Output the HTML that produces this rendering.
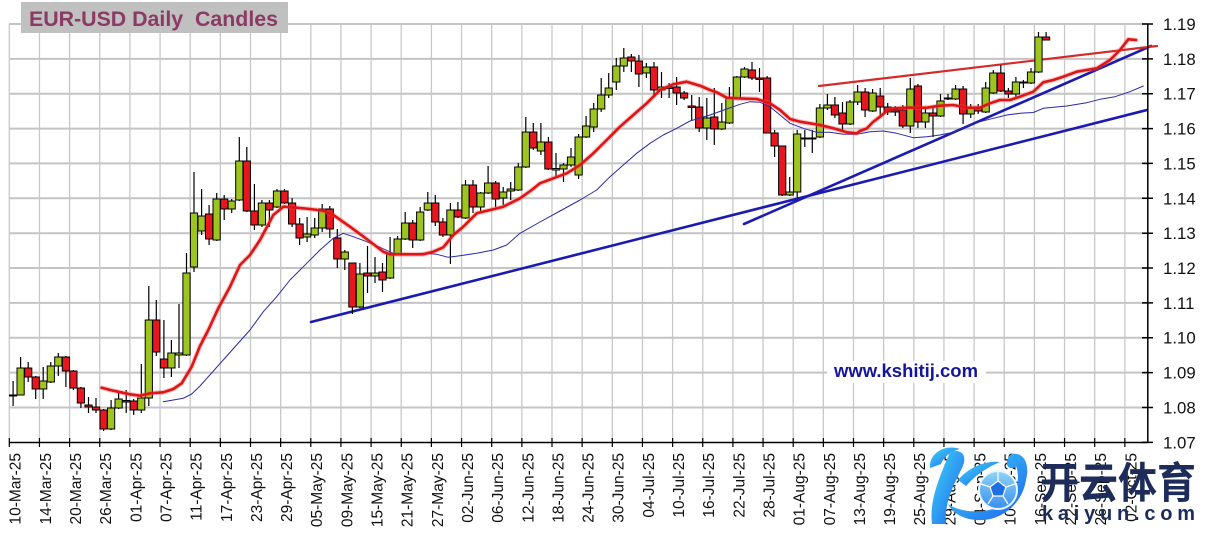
<!DOCTYPE html>
<html><head><meta charset="utf-8"><style>html,body{margin:0;padding:0;background:#fff}svg{display:block}</style></head>
<body>
<svg width="1211" height="546" viewBox="0 0 1211 546" xmlns="http://www.w3.org/2000/svg">
<defs>
<linearGradient id="lg" x1="0" y1="0" x2="1" y2="1"><stop offset="0" stop-color="#3fd6f7"/><stop offset="1" stop-color="#1e62ee"/></linearGradient>
<linearGradient id="bg" x1="0" y1="0" x2="0" y2="1"><stop offset="0" stop-color="#8fd4f8"/><stop offset="1" stop-color="#3a8ff0"/></linearGradient>
</defs>
<rect width="1211" height="546" fill="#fff"/>
<g stroke="#c4c4c4" stroke-width="2">
<path d="M9 24H1148M9 58.9H1148M9 93.7H1148M9 128.6H1148M9 163.4H1148M9 198.3H1148M9 233.2H1148M9 268H1148M9 302.9H1148M9 337.7H1148M9 372.6H1148M9 407.5H1148"/>
</g>
<g stroke="#c8c8c8" stroke-width="1.3">
<path d="M9.3 24V442M39.45 24V442M69.6 24V442M99.75 24V442M129.9 24V442M160.05 24V442M190.2 24V442M220.35 24V442M250.5 24V442M280.65 24V442M310.8 24V442M340.95 24V442M371.1 24V442M401.25 24V442M431.4 24V442M461.55 24V442M491.7 24V442M521.85 24V442M552 24V442M582.15 24V442M612.3 24V442M642.45 24V442M672.6 24V442M702.75 24V442M732.9 24V442M763.05 24V442M793.2 24V442M823.35 24V442M853.5 24V442M883.65 24V442M913.8 24V442M943.95 24V442M974.1 24V442M1004.25 24V442M1034.4 24V442M1064.55 24V442M1094.7 24V442M1124.85 24V442"/>
</g>
<rect x="827" y="361" width="159" height="22" fill="#fff"/>
<text x="834" y="377" font-family="Liberation Sans, Arial, sans-serif" font-weight="bold" font-size="18.4" fill="#15159c" textLength="144" lengthAdjust="spacingAndGlyphs">www.kshitij.com</text>
<g fill="none" stroke-linecap="round">
<path d="M311 322L1147 110" stroke="#1b1bb0" stroke-width="2.6"/>
<path d="M744 224L1151 46" stroke="#1b1bb0" stroke-width="2.6"/>
<path d="M819 86L1157 46" stroke="#d62a2a" stroke-width="2.2"/>
</g>
<path stroke="#000" stroke-width="1.2" fill="none" d="M13.1 381V406M20.6 357V395M28.2 362V382M35.7 376V399M43.2 367V399M50.8 362V383M58.3 353V376M65.9 356V387M73.4 370V390M80.9 387V408M88.5 397V413M96 398V413M103.6 409V431M111.1 400V430M118.6 393V409M126.2 390V413M133.7 399V415M141.3 364V413M148.8 286V406M156.3 300V356M163.9 320V378M171.4 340V377M179 304V368M186.5 253V356M194 172V272M201.6 189V235M209.1 205V245M216.7 193V241M224.2 195V220M231.7 199V213M239.3 137V201M246.8 147V212M254.4 184V230M261.9 200V227M269.4 200V227M277 189V208M284.5 189V204M292.1 198V227M299.6 218V245M307.1 217V242M314.7 218V238M322.2 204V232M329.8 206V238M337.3 229V268M344.8 250V270M352.4 263V314M359.9 263V308M367.5 246V293M375 257V283M382.5 263V292M390.1 237V279M397.6 236V255M405.2 212V240M412.7 220V248M420.2 207V241M427.8 192V211M435.3 195V226M442.9 218V237M450.4 203V264M457.9 202V218M465.5 180V219M473 180V213M480.6 192V213M488.1 166V194M495.6 181V207M503.2 187V205M510.7 182V200M518.3 163V191M525.8 117V168M533.3 123V150M540.9 123V155M548.4 137V170M556 153V177M563.5 163V182M571 148V167M578.6 134V179M586.1 116V138M593.7 103V132M601.2 78V112M608.7 73V98M616.3 58V90M623.8 48V72M631.4 54V72M638.9 55V87M646.4 63V78M654 62V97M661.5 72V98M669.1 83V98M676.6 77V105M684.1 91V100M691.7 95V120M699.2 97V132M706.8 98V140M714.3 88V145M721.8 103V130M729.4 87V124M736.9 76V99M744.5 67V78M752 62V80M759.5 68V92M767.1 76V133M774.6 130V157M782.2 146V196M789.7 177V196M797.2 130V198M804.8 130V147M812.3 130V153M819.9 104V138M827.4 94V110M834.9 97V118M842.5 102V132M850 100V125M857.6 85V105M865.1 88V117M872.6 89V112M880.2 88V115M887.7 103V115M895.3 106V116M902.8 105V128M910.3 78V133M917.9 84V128M925.4 108V128M933 108V137M940.5 94V117M948 94V100M955.6 85V100M963.1 86V124M970.7 104V118M978.2 104V114M985.7 82V113M993.3 70V94M1000.8 65V92M1008.4 88V98M1015.9 77V98M1023.4 80V88M1031 68V84M1038.5 32V73M1046.1 32V40"/>
<g fill="#9ec51f" stroke="#000" stroke-width="1">
<rect x="9.5" y="395" width="7.2" height="1"/>
<rect x="17" y="368" width="7.2" height="27"/>
<rect x="39.6" y="381" width="7.2" height="8"/>
<rect x="47.2" y="366" width="7.2" height="16"/>
<rect x="54.7" y="357" width="7.2" height="9"/>
<rect x="107.5" y="408" width="7.2" height="21"/>
<rect x="115" y="399" width="7.2" height="9"/>
<rect x="137.6" y="398" width="7.2" height="12"/>
<rect x="145.2" y="320" width="7.2" height="78"/>
<rect x="167.8" y="353" width="7.2" height="15"/>
<rect x="175.4" y="353" width="7.2" height="2"/>
<rect x="182.9" y="273" width="7.2" height="82"/>
<rect x="190.4" y="213" width="7.2" height="54"/>
<rect x="198" y="216" width="7.2" height="15"/>
<rect x="213" y="199" width="7.2" height="41"/>
<rect x="228.1" y="201" width="7.2" height="8"/>
<rect x="235.7" y="161" width="7.2" height="39"/>
<rect x="258.3" y="203" width="7.2" height="22"/>
<rect x="273.4" y="191" width="7.2" height="16"/>
<rect x="303.5" y="234" width="7.2" height="3"/>
<rect x="311.1" y="228" width="7.2" height="7"/>
<rect x="318.6" y="209" width="7.2" height="19"/>
<rect x="341.2" y="252" width="7.2" height="7"/>
<rect x="356.3" y="274" width="7.2" height="33"/>
<rect x="371.4" y="273" width="7.2" height="3"/>
<rect x="386.5" y="254" width="7.2" height="24"/>
<rect x="394" y="239" width="7.2" height="15"/>
<rect x="401.6" y="223" width="7.2" height="16"/>
<rect x="416.6" y="212" width="7.2" height="28"/>
<rect x="424.2" y="203" width="7.2" height="7"/>
<rect x="446.8" y="210" width="7.2" height="25"/>
<rect x="461.9" y="185" width="7.2" height="33"/>
<rect x="477" y="193" width="7.2" height="14"/>
<rect x="484.5" y="183" width="7.2" height="10"/>
<rect x="499.6" y="192" width="7.2" height="6"/>
<rect x="507.1" y="189" width="7.2" height="2"/>
<rect x="514.7" y="167" width="7.2" height="23"/>
<rect x="522.2" y="132" width="7.2" height="35"/>
<rect x="537.3" y="142" width="7.2" height="9"/>
<rect x="552.4" y="168.5" width="7.2" height="1.5"/>
<rect x="559.9" y="165" width="7.2" height="4"/>
<rect x="567.4" y="157" width="7.2" height="8"/>
<rect x="575" y="137" width="7.2" height="38"/>
<rect x="582.5" y="126" width="7.2" height="11"/>
<rect x="590.1" y="109" width="7.2" height="18"/>
<rect x="597.6" y="95" width="7.2" height="14"/>
<rect x="605.1" y="88" width="7.2" height="7"/>
<rect x="612.7" y="66" width="7.2" height="16"/>
<rect x="620.2" y="58" width="7.2" height="8"/>
<rect x="642.8" y="67" width="7.2" height="6"/>
<rect x="657.9" y="87" width="7.2" height="3"/>
<rect x="703.2" y="118" width="7.2" height="10"/>
<rect x="718.2" y="122" width="7.2" height="7"/>
<rect x="725.8" y="98" width="7.2" height="25"/>
<rect x="733.3" y="77" width="7.2" height="21"/>
<rect x="740.9" y="69" width="7.2" height="8"/>
<rect x="786.1" y="192" width="7.2" height="3"/>
<rect x="793.6" y="134" width="7.2" height="58"/>
<rect x="801.2" y="138" width="7.2" height="1"/>
<rect x="816.3" y="108" width="7.2" height="29"/>
<rect x="823.8" y="105" width="7.2" height="3"/>
<rect x="846.4" y="102" width="7.2" height="22"/>
<rect x="854" y="92" width="7.2" height="10"/>
<rect x="869" y="93" width="7.2" height="18"/>
<rect x="906.7" y="89" width="7.2" height="37"/>
<rect x="921.8" y="113" width="7.2" height="9"/>
<rect x="936.9" y="101" width="7.2" height="15"/>
<rect x="944.4" y="98" width="7.2" height="1"/>
<rect x="952" y="89" width="7.2" height="10"/>
<rect x="967.1" y="108" width="7.2" height="6"/>
<rect x="982.1" y="88" width="7.2" height="24"/>
<rect x="989.7" y="73" width="7.2" height="20"/>
<rect x="1012.3" y="82" width="7.2" height="12"/>
<rect x="1019.8" y="82" width="7.2" height="1"/>
<rect x="1027.4" y="72" width="7.2" height="11"/>
<rect x="1034.9" y="37" width="7.2" height="35"/>
</g>
<g fill="#e8161e" stroke="#000" stroke-width="1">
<rect x="24.6" y="368" width="7.2" height="9"/>
<rect x="32.1" y="377" width="7.2" height="12"/>
<rect x="62.3" y="357" width="7.2" height="14"/>
<rect x="69.8" y="371" width="7.2" height="17"/>
<rect x="77.3" y="388" width="7.2" height="15"/>
<rect x="84.9" y="405" width="7.2" height="2"/>
<rect x="92.4" y="407" width="7.2" height="3"/>
<rect x="100" y="410" width="7.2" height="19"/>
<rect x="122.6" y="400.5" width="7.2" height="1.5"/>
<rect x="130.1" y="401" width="7.2" height="9"/>
<rect x="152.7" y="320" width="7.2" height="32"/>
<rect x="160.3" y="359" width="7.2" height="9"/>
<rect x="205.5" y="214" width="7.2" height="25"/>
<rect x="220.6" y="199" width="7.2" height="10"/>
<rect x="243.2" y="161" width="7.2" height="50"/>
<rect x="250.8" y="211" width="7.2" height="14"/>
<rect x="265.8" y="203" width="7.2" height="7"/>
<rect x="280.9" y="191" width="7.2" height="12"/>
<rect x="288.5" y="203" width="7.2" height="21"/>
<rect x="296" y="224" width="7.2" height="14"/>
<rect x="326.2" y="209" width="7.2" height="20"/>
<rect x="333.7" y="238" width="7.2" height="21"/>
<rect x="348.8" y="263" width="7.2" height="44"/>
<rect x="363.9" y="273" width="7.2" height="3"/>
<rect x="378.9" y="272" width="7.2" height="8"/>
<rect x="409.1" y="223" width="7.2" height="17"/>
<rect x="431.7" y="203" width="7.2" height="19"/>
<rect x="439.3" y="222" width="7.2" height="13"/>
<rect x="454.3" y="210" width="7.2" height="7"/>
<rect x="469.4" y="185" width="7.2" height="22"/>
<rect x="492" y="183" width="7.2" height="16"/>
<rect x="529.7" y="132" width="7.2" height="16"/>
<rect x="544.8" y="142" width="7.2" height="27"/>
<rect x="627.8" y="57" width="7.2" height="4"/>
<rect x="635.3" y="61" width="7.2" height="13"/>
<rect x="650.4" y="67" width="7.2" height="23"/>
<rect x="665.5" y="87" width="7.2" height="1.5"/>
<rect x="673" y="87" width="7.2" height="6"/>
<rect x="680.5" y="93" width="7.2" height="5"/>
<rect x="688.1" y="106" width="7.2" height="1.5"/>
<rect x="695.6" y="107" width="7.2" height="21"/>
<rect x="710.7" y="117" width="7.2" height="12"/>
<rect x="748.4" y="70" width="7.2" height="8"/>
<rect x="755.9" y="78" width="7.2" height="1.5"/>
<rect x="763.5" y="78" width="7.2" height="55"/>
<rect x="771" y="133" width="7.2" height="13"/>
<rect x="778.6" y="146" width="7.2" height="49"/>
<rect x="808.7" y="138" width="7.2" height="1"/>
<rect x="831.3" y="105" width="7.2" height="10"/>
<rect x="838.9" y="113" width="7.2" height="11"/>
<rect x="861.5" y="92" width="7.2" height="18"/>
<rect x="876.6" y="96" width="7.2" height="11"/>
<rect x="884.1" y="107" width="7.2" height="5"/>
<rect x="891.7" y="110" width="7.2" height="2"/>
<rect x="899.2" y="110" width="7.2" height="16"/>
<rect x="914.3" y="86" width="7.2" height="36"/>
<rect x="929.4" y="113" width="7.2" height="3"/>
<rect x="959.5" y="89" width="7.2" height="25"/>
<rect x="974.6" y="108" width="7.2" height="3"/>
<rect x="997.2" y="73" width="7.2" height="18"/>
<rect x="1004.8" y="91" width="7.2" height="3"/>
<rect x="1042.5" y="37" width="7.2" height="3"/>
</g>
<g fill="none" stroke-linejoin="round" stroke-linecap="round">
<polyline stroke="#2a2aa6" stroke-width="1" points="163.3,401.7 183.3,398.3 191.7,394 200,386 225,358 250,330 263.3,311.7 276.7,296.7 290,280 306.7,263.3 320,250 333.3,238.3 343.3,233.3 353.3,236.7 366.7,241.7 380,247.3 393.3,253.3 406.7,254 423.3,253.3 436.7,254.3 448.3,257.3 460,255.7 476.7,253.3 493.3,250 506.7,245 520,233.3 540,222 560,211 580,200 596.7,190 610,176.7 623.3,165 636.7,153.3 650,143.3 663.3,135 676.7,128.3 690,121 710,115 726.7,109 740,104.3 750,101.7 760,102.3 770,106.7 780,115 790,123.3 803.3,128.3 816.7,132.3 830,132.3 843.3,134.3 856.7,134.3 870,131.7 883.3,131 896.7,133.3 913.3,137.7 926.7,136.7 940,135 953.3,132.3 966.7,126.7 980,121.7 993.3,118.3 1006.7,115 1020,113.3 1033.3,112.5 1043.3,108.3 1066.7,106 1086.7,102.7 1100,99.3 1115,96.7 1130,91.7 1143.3,86"/>
<polyline stroke="rgba(235,90,90,0.35)" stroke-width="4.8" points="101.7,387.7 113.3,390.7 130,394.3 140,395.7 150,393.3 163.3,392.3 173.3,389 181.7,383.3 191.7,366.7 200,346 208.3,330 218.3,308.3 230,286.7 240,265 250,255 260,240 273.3,215 283.3,206.7 296.7,207.7 310,209 323.3,210.7 333.3,215 350,226.7 366.7,239 383.3,251.7 390,254.3 406.7,254.3 423.3,254.3 433.3,251.7 443.3,247.3 453.3,235 463.3,226.7 476.7,213.3 490,210 503.3,206.7 520,198.3 531.7,190 540,183.3 553.3,178.3 566.7,173.3 580,165 593.3,153.3 606.7,140 620,126.7 633.3,115 646.7,103.3 660,90 673.3,84.3 686.7,81.7 700,85.7 710,90 716.7,92.3 726.7,97.7 736.7,98.3 756.7,99 770,103.3 780,110 790,119 800,121.7 820,125 833.3,128.3 846.7,132.3 856.7,133.3 860,131 866.7,128.5 873,122 880,116.7 886.7,111 893.3,108.3 906.7,107.7 926.7,107.7 940,105.7 953.3,105 966.7,107.7 980,107.7 990,103.3 1000,100 1010,100 1020,96.7 1033.3,91.7 1043.3,82.3 1053.3,80 1063.3,76.7 1076.7,71.7 1086.7,70 1096.7,68.3 1110,60 1120,50 1128.3,39.3 1136,40"/>
<polyline stroke="#e01414" stroke-width="2.6" points="101.7,387.7 113.3,390.7 130,394.3 140,395.7 150,393.3 163.3,392.3 173.3,389 181.7,383.3 191.7,366.7 200,346 208.3,330 218.3,308.3 230,286.7 240,265 250,255 260,240 273.3,215 283.3,206.7 296.7,207.7 310,209 323.3,210.7 333.3,215 350,226.7 366.7,239 383.3,251.7 390,254.3 406.7,254.3 423.3,254.3 433.3,251.7 443.3,247.3 453.3,235 463.3,226.7 476.7,213.3 490,210 503.3,206.7 520,198.3 531.7,190 540,183.3 553.3,178.3 566.7,173.3 580,165 593.3,153.3 606.7,140 620,126.7 633.3,115 646.7,103.3 660,90 673.3,84.3 686.7,81.7 700,85.7 710,90 716.7,92.3 726.7,97.7 736.7,98.3 756.7,99 770,103.3 780,110 790,119 800,121.7 820,125 833.3,128.3 846.7,132.3 856.7,133.3 860,131 866.7,128.5 873,122 880,116.7 886.7,111 893.3,108.3 906.7,107.7 926.7,107.7 940,105.7 953.3,105 966.7,107.7 980,107.7 990,103.3 1000,100 1010,100 1020,96.7 1033.3,91.7 1043.3,82.3 1053.3,80 1063.3,76.7 1076.7,71.7 1086.7,70 1096.7,68.3 1110,60 1120,50 1128.3,39.3 1136,40"/>
</g>
<g stroke="#000" stroke-width="1.5" fill="none">
<path d="M9 442.5H1148M1147.8 24V443"/>
<path d="M1142 24H1153M1142 58.9H1153M1142 93.7H1153M1142 128.6H1153M1142 163.4H1153M1142 198.3H1153M1142 233.2H1153M1142 268H1153M1142 302.9H1153M1142 337.7H1153M1142 372.6H1153M1142 407.5H1153M1142 442.4H1153"/>
<path stroke-width="1.2" d="M9.3 438V447M39.45 438V447M69.6 438V447M99.75 438V447M129.9 438V447M160.05 438V447M190.2 438V447M220.35 438V447M250.5 438V447M280.65 438V447M310.8 438V447M340.95 438V447M371.1 438V447M401.25 438V447M431.4 438V447M461.55 438V447M491.7 438V447M521.85 438V447M552 438V447M582.15 438V447M612.3 438V447M642.45 438V447M672.6 438V447M702.75 438V447M732.9 438V447M763.05 438V447M793.2 438V447M823.35 438V447M853.5 438V447M883.65 438V447M913.8 438V447M943.95 438V447M974.1 438V447M1004.25 438V447M1034.4 438V447M1064.55 438V447M1094.7 438V447M1124.85 438V447"/>
</g>
<g font-family="Liberation Sans, Arial, sans-serif" font-size="16.8" fill="#111">
<text x="1163" y="30">1.19</text>
<text x="1163" y="64.9">1.18</text>
<text x="1163" y="99.7">1.17</text>
<text x="1163" y="134.6">1.16</text>
<text x="1163" y="169.4">1.15</text>
<text x="1163" y="204.3">1.14</text>
<text x="1163" y="239.2">1.13</text>
<text x="1163" y="274">1.12</text>
<text x="1163" y="308.9">1.11</text>
<text x="1163" y="343.7">1.10</text>
<text x="1163" y="378.6">1.09</text>
<text x="1163" y="413.5">1.08</text>
<text x="1163" y="448.4">1.07</text>
</g>
<g font-family="Liberation Sans, Arial, sans-serif" font-size="15.5" fill="#111" text-anchor="end">
<text transform="translate(20.7,453) rotate(-90)">10-Mar-25</text>
<text transform="translate(50.85,453) rotate(-90)">14-Mar-25</text>
<text transform="translate(81,453) rotate(-90)">20-Mar-25</text>
<text transform="translate(111.15,453) rotate(-90)">26-Mar-25</text>
<text transform="translate(141.3,453) rotate(-90)">01-Apr-25</text>
<text transform="translate(171.45,453) rotate(-90)">07-Apr-25</text>
<text transform="translate(201.6,453) rotate(-90)">11-Apr-25</text>
<text transform="translate(231.75,453) rotate(-90)">17-Apr-25</text>
<text transform="translate(261.9,453) rotate(-90)">23-Apr-25</text>
<text transform="translate(292.05,453) rotate(-90)">29-Apr-25</text>
<text transform="translate(322.2,453) rotate(-90)">05-May-25</text>
<text transform="translate(352.35,453) rotate(-90)">09-May-25</text>
<text transform="translate(382.5,453) rotate(-90)">15-May-25</text>
<text transform="translate(412.65,453) rotate(-90)">21-May-25</text>
<text transform="translate(442.8,453) rotate(-90)">27-May-25</text>
<text transform="translate(472.95,453) rotate(-90)">02-Jun-25</text>
<text transform="translate(503.1,453) rotate(-90)">06-Jun-25</text>
<text transform="translate(533.25,453) rotate(-90)">12-Jun-25</text>
<text transform="translate(563.4,453) rotate(-90)">18-Jun-25</text>
<text transform="translate(593.55,453) rotate(-90)">24-Jun-25</text>
<text transform="translate(623.7,453) rotate(-90)">30-Jun-25</text>
<text transform="translate(653.85,453) rotate(-90)">04-Jul-25</text>
<text transform="translate(684,453) rotate(-90)">10-Jul-25</text>
<text transform="translate(714.15,453) rotate(-90)">16-Jul-25</text>
<text transform="translate(744.3,453) rotate(-90)">22-Jul-25</text>
<text transform="translate(774.45,453) rotate(-90)">28-Jul-25</text>
<text transform="translate(804.6,453) rotate(-90)">01-Aug-25</text>
<text transform="translate(834.75,453) rotate(-90)">07-Aug-25</text>
<text transform="translate(864.9,453) rotate(-90)">13-Aug-25</text>
<text transform="translate(895.05,453) rotate(-90)">19-Aug-25</text>
<text transform="translate(925.2,453) rotate(-90)">25-Aug-25</text>
<text transform="translate(955.35,453) rotate(-90)">29-Aug-25</text>
<text transform="translate(985.5,453) rotate(-90)">04-Sep-25</text>
<text transform="translate(1015.65,453) rotate(-90)">10-Sep-25</text>
<text transform="translate(1045.8,453) rotate(-90)">16-Sep-25</text>
<text transform="translate(1075.95,453) rotate(-90)">22-Sep-25</text>
<text transform="translate(1106.1,453) rotate(-90)">26-Sep-25</text>
<text transform="translate(1136.25,453) rotate(-90)">02-Oct-25</text>
</g>
<rect x="21" y="2" width="267" height="31" fill="#c0c0c0"/>
<text x="29" y="26" font-family="Liberation Sans, Arial, sans-serif" font-weight="bold" font-size="21" fill="#8b3a64" textLength="249" lengthAdjust="spacingAndGlyphs">EUR-USD Daily&#160; Candles</text>
<g>
<path d="M930 468C929 452 946 444 960 449C952 451 944 456 941 464Z" fill="url(#lg)"/>
<path d="M950 452C962 448 968 456 962 468C952 488 944 505 946 524L932 524C929 500 940 476 950 452Z" fill="url(#lg)"/>
<path d="M958 480C968 468 985 460 1000 462C990 466 976 474 966 486Z" fill="url(#lg)"/>
<path d="M1012 454C1024 452 1030 464 1026 480C1022 505 1000 522 976 520C962 519 952 512 948 504C960 512 980 514 996 508C1014 500 1022 482 1016 466C1012 470 1006 468 1007 462C1008 456 1010 455 1012 454Z" fill="url(#lg)"/>
<circle cx="998" cy="490" r="19" fill="url(#bg)" stroke="#e8f6ff" stroke-width="2"/>
<path d="M998 481L1006 487L1003 496L993 496L990 487Z" fill="#1f6fe0" stroke="#fff" stroke-width="1.2"/>
<path d="M998 481V472M1006 487L1015 484M1003 496L1008 504M993 496L988 504M990 487L981 484" stroke="#fff" stroke-width="1.2"/>
<text transform="translate(1040,498) scale(1,1.1)" font-family="Liberation Sans, 'Noto Sans CJK SC', sans-serif" font-weight="bold" font-size="39" fill="#1e2c5a" textLength="156" lengthAdjust="spacingAndGlyphs">开云体育</text>
<text x="1042" y="520" font-family="Liberation Sans, Arial, sans-serif" font-weight="bold" font-size="20" fill="#1e2c5a" textLength="153" lengthAdjust="spacing">kaiyun.com</text>
</g>
</svg>
</body></html>
